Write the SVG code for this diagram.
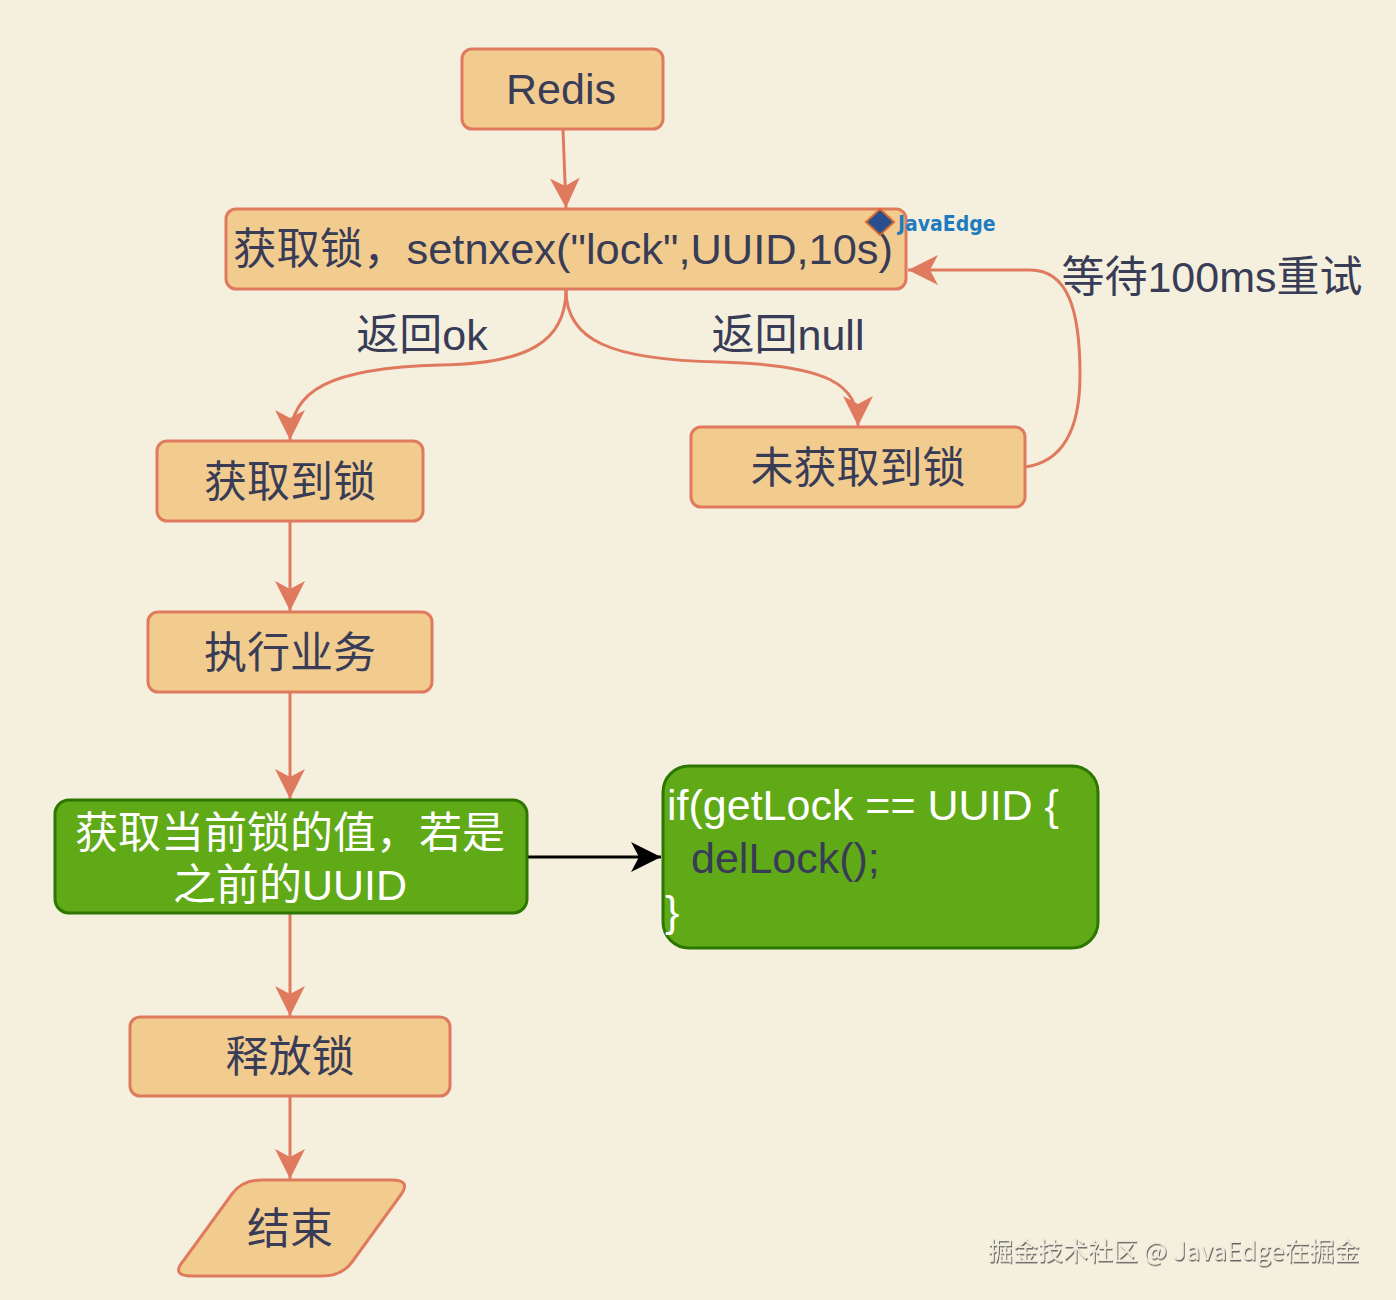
<svg xmlns="http://www.w3.org/2000/svg" width="1396" height="1300" viewBox="0 0 1396 1300">
<defs>
<style>
.box{fill:#F2CC8F;stroke:#E07A5F;stroke-width:3}
.gbox{fill:#60A917;stroke:#2D7600;stroke-width:3}
.t{font-family:"Liberation Sans","Noto Sans CJK SC",sans-serif;font-size:43px;fill:#393C56}
.w{fill:#FFFFFF}
.c{text-anchor:middle}
.edge{fill:none;stroke:#E07A5F;stroke-width:3}
</style>
<marker id="ao" markerUnits="userSpaceOnUse" markerWidth="30" markerHeight="34" viewBox="0 0 30 34" refX="30" refY="17" orient="auto">
<path d="M0,2 L30,17 L0,32 L8,17 Z" fill="#E07A5F"/>
</marker>
<marker id="ab" markerUnits="userSpaceOnUse" markerWidth="34" markerHeight="34" viewBox="0 0 30 34" refX="30" refY="17" orient="auto">
<path d="M0,2 L30,17 L0,32 L8,17 Z" fill="#000000"/>
</marker>
<filter id="sh" x="-5%" y="-30%" width="110%" height="160%">
<feDropShadow dx="1" dy="1.5" stdDeviation="0.6" flood-color="#555555" flood-opacity="0.9"/>
</filter>
</defs>
<rect x="0" y="0" width="1396" height="1300" fill="#F5F0DE"/>

<g id="connectors">
<path class="edge" d="M563,130 L566,208" marker-end="url(#ao)"/>
<path class="edge" d="M566,290 C566,340 530,364 440,365 C330,368 290,390 290,440" marker-end="url(#ao)"/>
<path class="edge" d="M566,290 C566,340 610,360 720,362 C830,365 858,385 858,426" marker-end="url(#ao)"/>
<path class="edge" d="M1025,467 C1062,462 1080,430 1080,375 C1080,310 1068,270 1030,270 L908,270" marker-end="url(#ao)"/>
<path class="edge" d="M290,521 L290,611" marker-end="url(#ao)"/>
<path class="edge" d="M290,692 L290,799" marker-end="url(#ao)"/>
<path d="M527,857 L661,857" fill="none" stroke="#000000" stroke-width="3" marker-end="url(#ab)"/>
<path class="edge" d="M290,913 L290,1016" marker-end="url(#ao)"/>
<path class="edge" d="M290,1096 L290,1179" marker-end="url(#ao)"/>
</g>

<g id="label-ok"><text class="t c" x="422" y="350">返回ok</text></g>
<g id="label-null"><text class="t c" x="788" y="350">返回null</text></g>
<g id="label-retry"><text class="t c" x="1212" y="292">等待100ms重试</text></g>

<g id="redis">
<rect class="box" x="462" y="49" width="201" height="80" rx="10"/>
<text class="t c" x="561" y="104">Redis</text>
</g>

<g id="setnx">
<rect class="box" x="226" y="209" width="680" height="80" rx="10"/>
<text class="t" x="233" y="264" textLength="660" lengthAdjust="spacingAndGlyphs">获取锁，setnxex("lock",UUID,10s)</text>
</g>

<g id="logo">
<polygon points="880,209 894,222 880,235 866,222" fill="#2A4F8F" stroke="#D86A2E" stroke-width="2"/>
<text x="898" y="231" font-family="'DejaVu Sans Condensed','DejaVu Sans',sans-serif" font-weight="bold" font-size="21" fill="#1E7BC0">JavaEdge</text>
</g>

<g id="got">
<rect class="box" x="157" y="441" width="266" height="80" rx="10"/>
<text class="t c" x="290" y="497">获取到锁</text>
</g>

<g id="notgot">
<rect class="box" x="691" y="427" width="334" height="80" rx="10"/>
<text class="t c" x="858" y="483">未获取到锁</text>
</g>

<g id="exec">
<rect class="box" x="148" y="612" width="284" height="80" rx="10"/>
<text class="t c" x="290" y="668">执行业务</text>
</g>

<g id="check">
<rect class="gbox" x="55" y="800" width="472" height="113" rx="14"/>
<text class="t c w" x="290" y="848">获取当前锁的值，若是</text>
<text class="t c w" x="290" y="900">之前的UUID</text>
</g>

<g id="code">
<rect class="gbox" x="663" y="766" width="435" height="182" rx="26"/>
<text class="t w" x="667" y="820">if(getLock == UUID {</text>
<text class="t" x="691" y="873" fill="#333333">delLock();</text>
<text class="t w" x="665" y="926">}</text>
</g>

<g id="release">
<rect class="box" x="130" y="1017" width="320" height="79" rx="10"/>
<text class="t c" x="290" y="1072">释放锁</text>
</g>

<g id="end">
<path class="box" d="M262,1180 L392,1180 Q412,1180 400,1196 L352,1262 Q342,1276 322,1276 L192,1276 Q170,1276 184,1260 L232,1194 Q242,1180 262,1180 Z"/>
<text class="t c" x="290" y="1244">结束</text>
</g>

<g id="watermark">
<text x="988" y="1260" font-family="'Noto Sans CJK SC','Liberation Sans',sans-serif" font-size="25" fill="#EFEBDD" filter="url(#sh)">掘金技术社区 @ JavaEdge在掘金</text>
</g>
</svg>
